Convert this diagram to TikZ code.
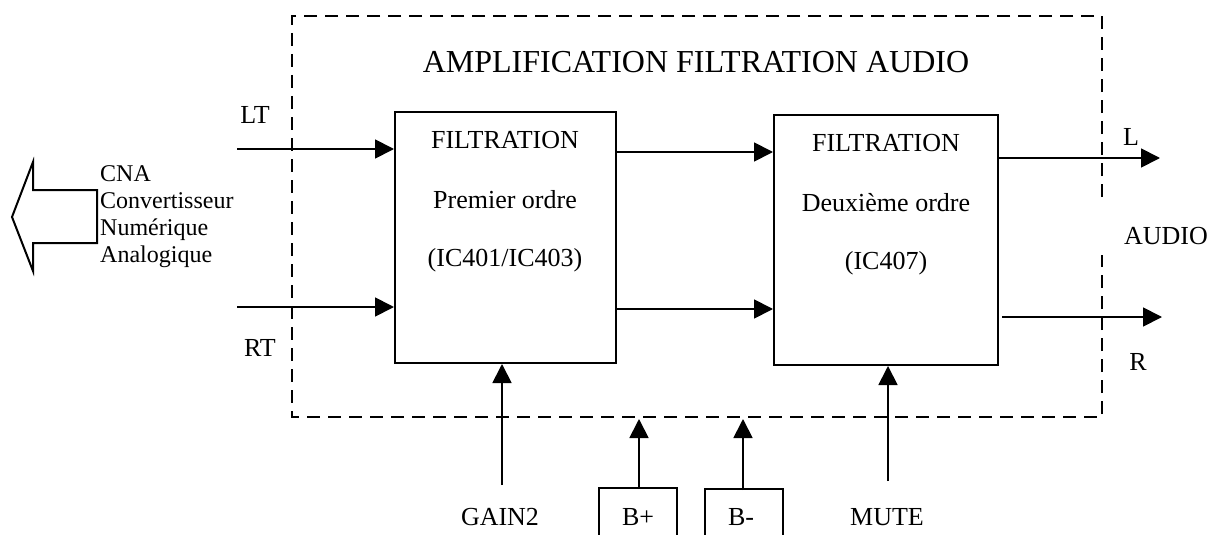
\documentclass[tikz,border=0pt]{standalone}
\usepackage{fontspec}
\setmainfont{Liberation Serif}
\usetikzlibrary{arrows.meta}
\begin{document}
\begin{tikzpicture}[x=1pt,y=-1pt,
  lbl/.style={font=\fontsize{26}{30}\selectfont, inner sep=0pt},
  ttl/.style={font=\fontsize{32}{37}\selectfont, inner sep=0pt},
  blk/.style={draw, line width=2pt, inner sep=0pt},
  small/.style={draw, line width=1.8pt, inner sep=0pt, minimum width=78pt, minimum height=60pt, font=\fontsize{26}{30}\selectfont},
  sig/.style={line width=1.8pt, -{Triangle[length=19pt,width=19pt]}},
  frame/.style={line width=1.6pt, dash pattern=on 13pt off 8pt},
  hollow/.style={line width=2pt, line join=miter}]
\useasboundingbox (0,0) rectangle (1221,535);
\clip (0,0) rectangle (1221,535);

% dashed frame
\coordinate (frtl) at (292,16);
\coordinate (frbr) at (1102,417);
\draw[frame] (1102,197) -- (frbr |- frtl) -- (frtl) -- (frtl |- frbr) -- (frbr) -- (1102,255);
\node[ttl] (title) at (696,62) {AMPLIFICATION FILTRATION AUDIO};

% filter blocks
\node[blk, minimum width=221pt, minimum height=251pt] (f1) at (505.5,237.5) {};
\node[blk, minimum width=224pt, minimum height=250pt] (f2) at (886,240) {};
\node[lbl] (f1a) at (505,140) {FILTRATION};
\node[lbl] (f1b) at (505,200) {Premier ordre};
\node[lbl] (f1c) at (505,260) {(IC401/IC403)};
\node[lbl] (f2a) at (886,143) {FILTRATION};
\node[lbl] (f2b) at (886,203) {Deuxième ordre};
\node[lbl] (f2c) at (886,263) {(IC407)};

% inputs
\coordinate (lt) at (237,149);
\coordinate (rt) at (237,307);
\node[lbl] (ltl) at (255,115) {LT};
\node[lbl] (rtl) at (260,348) {RT};
\draw[sig] (lt) -- (lt -| f1.west);
\draw[sig] (rt) -- (rt -| f1.west);

% between blocks
\draw[sig] (f1.east |- 0,152) -- (f2.west |- 0,152);
\draw[sig] (f1.east |- 0,309) -- (f2.west |- 0,309);

% outputs
\coordinate (lo) at (1160,158);
\coordinate (ro) at (1162,317);
\draw[sig] (f2.east |- lo) -- (lo);
\draw[sig] ([xshift=3pt]f2.east |- ro) -- (ro);
\node[lbl] (ll) at (1131,137) {L};
\node[lbl] (rl) at (1138,362) {R};
\node[lbl] (audio) at (1166,236) {AUDIO};

% CNA hollow arrow and text
\draw[hollow] (12,217) -- (33,162) -- (33,190) -- (97,190) -- (97,243) -- (33,243) -- (33,271) -- cycle;
\node[inner sep=0pt, anchor=west, align=left, font=\fontsize{24}{27}\selectfont] (cna) at (100,217)
  {CNA\\Convertisseur\\Numérique\\Analogique};

% bottom controls
\node[lbl] (gain) at (500,517) {GAIN2};
\coordinate (g0) at (502,485);
\draw[sig] (g0) -- (g0 |- f1.south);

\node[lbl] (mute) at (887,517) {MUTE};
\coordinate (m0) at (888,481);
\draw[sig] (m0) -- (m0 |- f2.south);

\node[small] (bp) at (638,518) {};
\node[lbl] (bpl) at (638,517) {B+};
\node[small] (bm) at (744,519) {};
\node[lbl] (bml) at (741,517) {B-};
\coordinate (bpt) at (639,419);
\coordinate (bmt) at (743,419);
\draw[sig] ([yshift=-2pt]bp.north -| bpt) -- (bpt);
\draw[sig] ([yshift=-2pt]bm.north -| bmt) -- (bmt);
\end{tikzpicture}
\end{document}
